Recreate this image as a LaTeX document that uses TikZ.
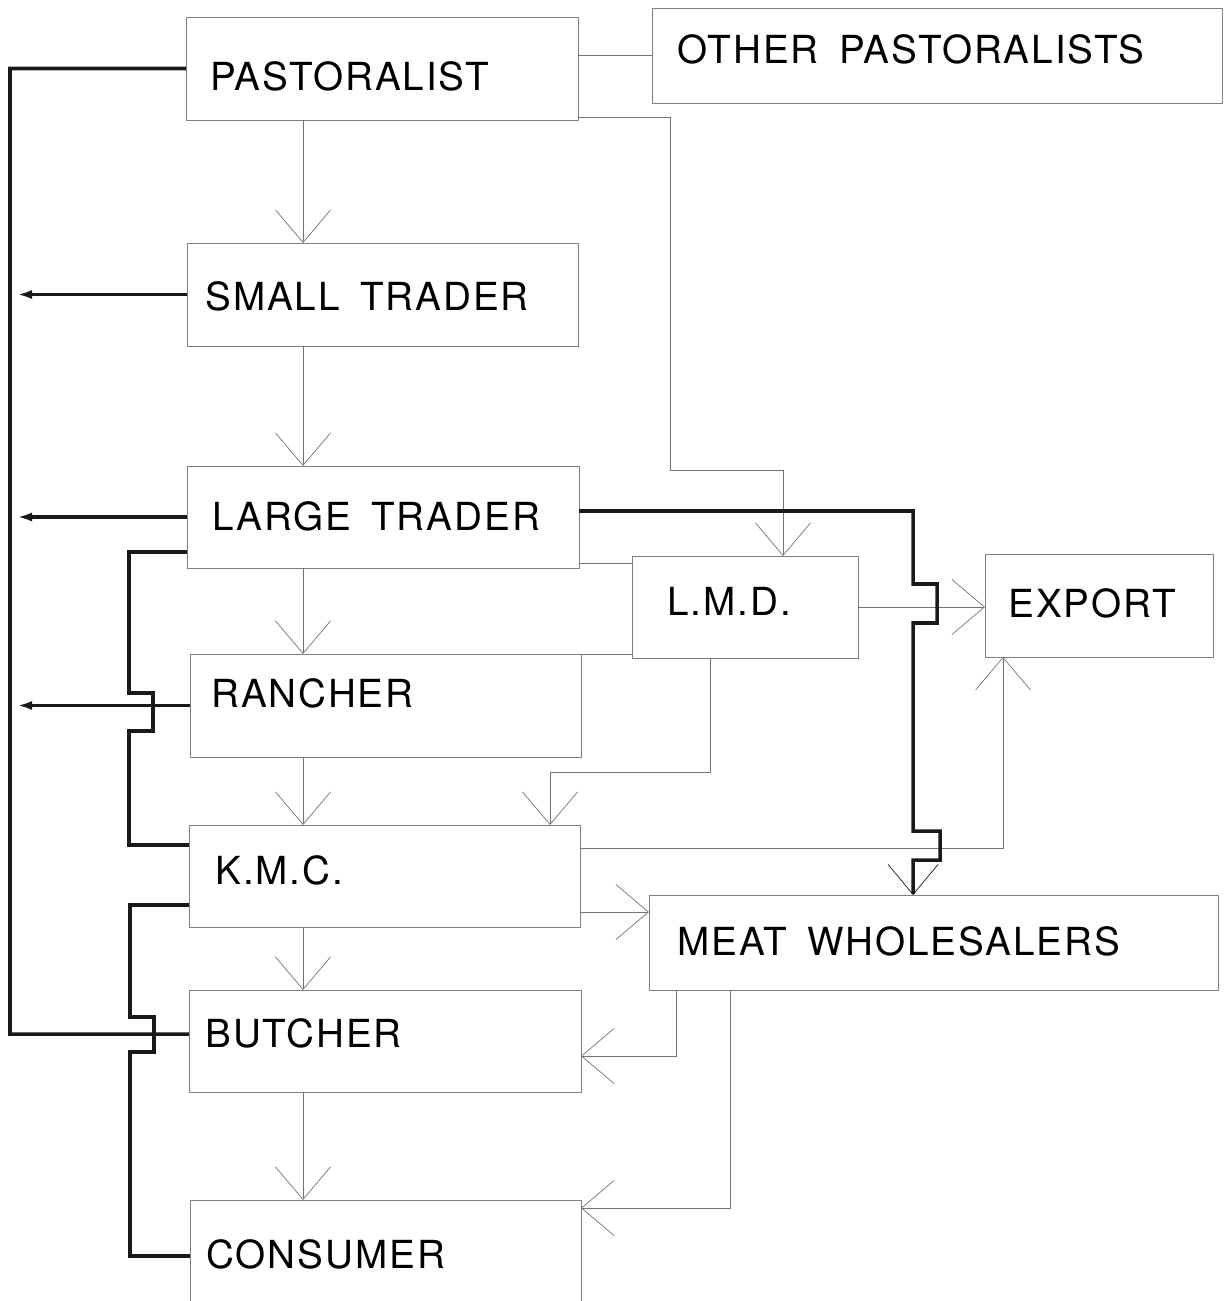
\documentclass[tikz,border=0pt]{standalone}
\usepackage{fontspec}
\usepackage{tikz}
\usetikzlibrary{arrows.meta,positioning}
\newfontfamily\heros{TeX Gyre Heros}[LetterSpace=5,WordSpace=1.6]

\begin{document}
\begin{tikzpicture}[x=0.2mm,y=-0.2mm,
  box/.style={draw=black!50,line width=0.5pt,inner sep=0pt,outer sep=0pt},
  lbl/.style={anchor=west,inner sep=0pt,font=\heros\fontsize{22}{26}\selectfont},
  flow/.style={draw=black!55,line width=0.5pt,-{Straight Barb[length=6.5mm,width=11mm,line width=0.4pt]}},
  link/.style={draw=black!55,line width=0.5pt},
  cash/.style={draw=black!90,line width=2pt},
  ret/.style={cash,-{Latex[length=3mm,width=1.8mm]}}]
  \clip (0,0) rectangle (1229,1301);
  % boxes
  \node[box,minimum width=78.4mm,minimum height=20.6mm] (past)     at (382,68.5)   {};
  \node[box,minimum width=114mm,minimum height=19mm]    (other)    at (937,55.5)   {};
  \node[box,minimum width=78.2mm,minimum height=20.6mm] (small)    at (382.5,294.5){};
  \node[box,minimum width=78.4mm,minimum height=20.4mm] (large)    at (383,517)    {};
  \node[box,minimum width=45.2mm,minimum height=20.4mm] (lmd)      at (745,607)    {};
  \node[box,minimum width=45.6mm,minimum height=20.6mm] (export)   at (1099,605.5) {};
  \node[box,minimum width=78.2mm,minimum height=20.6mm] (rancher)  at (385.5,705.5){};
  \node[box,minimum width=78.2mm,minimum height=20.4mm] (kmc)      at (384.5,876)  {};
  \node[box,minimum width=113.8mm,minimum height=19mm]  (mw)       at (933.5,942.5){};
  \node[box,minimum width=78.4mm,minimum height=20.4mm] (butcher)  at (385,1041)   {};
  \node[box,minimum width=78.2mm,minimum height=24mm]   (consumer) at (385.5,1260) {};
  % labels
  \node[lbl] (pastT)     at (210,76)   {PASTORALIST};
  \node[lbl] (otherT)    at (677,49)   {OTHER PASTORALISTS};
  \node[lbl] (smallT)    at (205,296)  {SMALL TRADER};
  \node[lbl] (largeT)    at (212,516)  {LARGE TRADER};
  \node[lbl] (lmdT)      at (667,601)  {L.M.D.};
  \node[lbl] (exportT)   at (1008,603) {EXPORT};
  \node[lbl] (rancherT)  at (211,693)  {RANCHER};
  \node[lbl] (kmcT)      at (215,870)  {K.M.C.};
  \node[lbl] (mwT)       at (677,941)  {MEAT WHOLESALERS};
  \node[lbl] (butcherT)  at (205,1033) {BUTCHER};
  \node[lbl] (consumerT) at (206,1254) {CONSUMER};
  \coordinate (col)   at (303,0);
  \coordinate (bus)   at (10,1034);
  \coordinate (busin) at (17,0);
  % cattle flows (thin)
  \draw[flow] (past.south -| col)    -- (small.north -| col);
  \draw[flow] (small.south -| col)   -- (large.north -| col);
  \draw[flow] (large.south -| col)   -- (rancher.north -| col);
  \draw[flow] (rancher.south -| col) -- (kmc.north -| col);
  \draw[flow] (kmc.south -| col)     -- (butcher.north -| col);
  \draw[flow] (butcher.south -| col) -- (consumer.north -| col);
  \draw[link] (other.west) -- (other.west -| past.east);
  \draw[flow] ([yshift=0.6mm]past.south east) -| ++(92,353) -| ([xshift=7.6mm]lmd.north);
  \draw[link] ([yshift=-1.4mm]lmd.north west) coordinate (q) -- (q -| large.east);
  \draw[link] ([yshift=0.8mm]lmd.south west) coordinate (q) -- (q -| rancher.east);
  \draw[flow] (lmd.east) -- (lmd.east -| export.west);
  \draw[flow] ([xshift=-7mm]lmd.south) -- ++(0,114) -| ([xshift=-6mm]kmc.north east);
  \draw[flow] ([yshift=-4.6mm]kmc.north east) -| ([xshift=3.6mm]export.south west);
  \draw[flow] ([yshift=3mm]kmc.south east) coordinate (q) -- (q -| mw.west);
  \draw[flow] ([xshift=5.4mm]mw.south west) |- ([yshift=-3mm]butcher.east);
  \draw[flow] ([xshift=16.2mm]mw.south west) |- ([yshift=-1.6mm]consumer.north east);
  % money flows (thick)
  \draw[cash] (past.west) -| (bus) -- ([yshift=1.4mm]butcher.west);
  \draw[ret] (small.west) -- (small.west -| busin);
  \draw[ret] (large.west) -- (large.west -| busin);
  \draw[ret] (rancher.west) -- (rancher.west -| busin);
  \draw[cash] ([yshift=-7mm]large.west) -- ++(-58,0) -- ++(0,141) -- ++(24,0)
    -- ++(0,38) -- ++(-24,0) |- ([yshift=6.2mm]kmc.west);
  \draw[cash] ([yshift=-5.8mm]kmc.west) -- ++(-59,0) -- ++(0,112) -- ++(24,0)
    -- ++(0,35) -- ++(-24,0) |- ([yshift=-11.2mm]consumer.north west);
  \draw[cash,-{Straight Barb[length=6mm,width=10mm,line width=0.4pt]}]
    ([yshift=1.2mm]large.east) -- ++(334,0) -- ++(0,73) -- ++(24,0) -- ++(0,39)
    -- ++(-24,0) -- ++(0,208) -- ++(27,0) -- ++(0,29) -- ++(-27,0)
    -- ([xshift=52.8mm]mw.north west);
\end{tikzpicture}
\end{document}
